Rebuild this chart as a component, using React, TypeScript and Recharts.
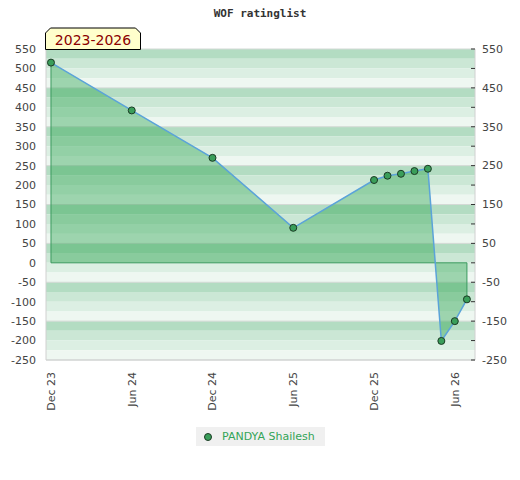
import React from 'react';
import {
  ComposedChart,
  Area,
  Line,
  XAxis,
  YAxis,
  CartesianGrid,
  ReferenceArea,
  ReferenceLine,
} from 'recharts';

// months since Dec 2023
const months = [0, 6, 12, 18, 24, 25, 26, 27, 28, 29, 30, 30.9];
const ratings = [515, 392, 270, 90, 213, 224, 229, 236, 242, -201, -150, -94];

const xTicks = [0, 6, 12, 18, 24, 30];
const xTickLabels = ['Dec 23', 'Jun 24', 'Dec 24', 'Jun 25', 'Dec 25', 'Jun 26'];

const yTicks = [550, 500, 450, 400, 350, 300, 250, 200, 150, 100, 50, 0, -50, -100, -150, -200, -250];
const rightLabels = [550, 450, 350, 250, 150, 50, -50, -150, -250];

const playerName = 'PANDYA Shailesh';
const title = 'WOF ratinglist';
const periodLabel = '2023-2026';

const STRIPE_COLORS = ['#b3dcc2', '#cbe7d5', '#dcefe3', '#eef7f1'];
const FONT = '"DejaVu Sans", Verdana, sans-serif';

const data = months.map((m, i) => ({ m, rating: ratings[i] }));

// 25-point background bands, cycling through 4 shades every 100
const bands: { y1: number; y2: number; fill: string }[] = [];
for (let v = 550, i = 0; v > -250; v -= 25, i++) {
  bands.push({ y1: v - 25, y2: v, fill: STRIPE_COLORS[i % 4] });
}

const XTick = (props: any) => {
  const { x, y, payload } = props;
  const idx = xTicks.indexOf(payload.value);
  return (
    <text
      x={x}
      y={y + 12}
      transform={`rotate(-90 ${x} ${y + 12})`}
      textAnchor="end"
      dy="0.35em"
      fill="#444"
      fontSize={11}
      fontFamily={FONT}
    >
      {xTickLabels[idx]}
    </text>
  );
};

const RightTick = (props: any) => {
  const { x, y, payload } = props;
  const show = rightLabels.includes(payload.value);
  return (
    <g>
      <line x1={x - 4} x2={x} y1={y} y2={y} stroke="#333" strokeWidth={1} />
      {show && (
        <text x={x + 7} y={y} dy="0.35em" textAnchor="start" fill="#444" fontSize={11} fontFamily={FONT}>
          {payload.value}
        </text>
      )}
    </g>
  );
};

export default function App() {
  const first = data[0];
  const last = data[data.length - 1];

  return (
    <div style={{ position: 'absolute', top: 0, left: 0, width: 520, height: 480, background: '#fff' }}>
      <ComposedChart width={520} height={480} data={data} margin={{ top: 49, right: 0, bottom: 0, left: 0 }}>
        {bands.map((b) => (
          <ReferenceArea
            key={b.y2}
            yAxisId="left"
            y1={b.y1}
            y2={b.y2}
            fill={b.fill}
            fillOpacity={1}
            stroke="none"
            zIndex={-200}
          />
        ))}
        <CartesianGrid
          yAxisId="left"
          vertical={false}
          horizontalValues={rightLabels}
          stroke="#d3d9d5"
          zIndex={-150}
        />
        <XAxis
          dataKey="m"
          type="number"
          domain={[-0.37, 31.5]}
          ticks={xTicks}
          interval={0}
          height={120}
          tickLine={false}
          tickSize={0}
          tickMargin={0}
          axisLine={{ stroke: '#d0d0d0' }}
          tick={<XTick />}
        />
        <YAxis
          yAxisId="left"
          domain={[-250, 550]}
          ticks={yTicks}
          interval={0}
          width={46}
          tickLine={false}
          tickSize={0}
          tickMargin={10}
          axisLine={{ stroke: '#d0d0d0' }}
          tick={{ fill: '#444', fontSize: 11, fontFamily: FONT }}
        />
        <YAxis
          yAxisId="right"
          orientation="right"
          domain={[-250, 550]}
          ticks={yTicks}
          interval={0}
          width={45}
          tickLine={false}
          tickSize={0}
          tickMargin={0}
          axisLine={{ stroke: '#d0d0d0' }}
          tick={<RightTick />}
        />
        <Area
          yAxisId="left"
          dataKey="rating"
          type="linear"
          baseValue={0}
          fill="#2da551"
          fillOpacity={0.42}
          stroke="none"
          isAnimationActive={false}
        />
        <ReferenceLine
          yAxisId="left"
          segment={[{ x: first.m, y: 0 }, { x: last.m, y: 0 }]}
          stroke="#3a9a5e"
          strokeWidth={1}
        />
        <ReferenceLine
          yAxisId="left"
          segment={[{ x: first.m, y: 0 }, { x: first.m, y: first.rating }]}
          stroke="#3a9a5e"
          strokeWidth={1}
        />
        <ReferenceLine
          yAxisId="left"
          segment={[{ x: last.m, y: 0 }, { x: last.m, y: last.rating }]}
          stroke="#3a9a5e"
          strokeWidth={1}
        />
        {/* invisible copy so the right-hand axis gets a domain and renders */}
        <Line
          yAxisId="right"
          dataKey="rating"
          stroke="none"
          dot={false}
          activeDot={false}
          legendType="none"
          isAnimationActive={false}
        />
        <Line
          yAxisId="left"
          dataKey="rating"
          type="linear"
          stroke="#5ba3d9"
          strokeWidth={1.5}
          dot={{ r: 3.5, fill: '#3a9e5a', stroke: '#1b3a24', strokeWidth: 1 }}
          activeDot={false}
          isAnimationActive={false}
        />
      </ComposedChart>

      <svg width={520} height={60} style={{ position: 'absolute', top: 0, left: 0, pointerEvents: 'none' }}>
        <text
          x={260}
          y={17}
          textAnchor="middle"
          fill="#333"
          fontSize={11}
          fontWeight="bold"
          fontFamily='"DejaVu Sans Mono", monospace'
        >
          {title}
        </text>
        <polygon points="45.5,33 50.5,28 135.5,28 140.5,33 140.5,49.5 45.5,49.5" fill="#ffffcc" stroke="#000" strokeWidth={1} />
        <text x={93} y={45} textAnchor="middle" fill="#8b0000" fontSize={14} fontFamily={FONT}>
          {periodLabel}
        </text>
      </svg>

      <div
        style={{
          position: 'absolute',
          left: 196,
          top: 427,
          width: 129,
          height: 19,
          background: '#f0f0f0',
          display: 'flex',
          alignItems: 'center',
          fontFamily: FONT,
          fontSize: 11,
          color: '#33a457',
        }}
      >
        <span
          style={{
            display: 'inline-block',
            width: 6,
            height: 6,
            borderRadius: '50%',
            background: '#3a9e5a',
            border: '1px solid #1b3a24',
            marginLeft: 8,
            marginRight: 10,
          }}
        />
        <span>{playerName}</span>
      </div>
    </div>
  );
}
